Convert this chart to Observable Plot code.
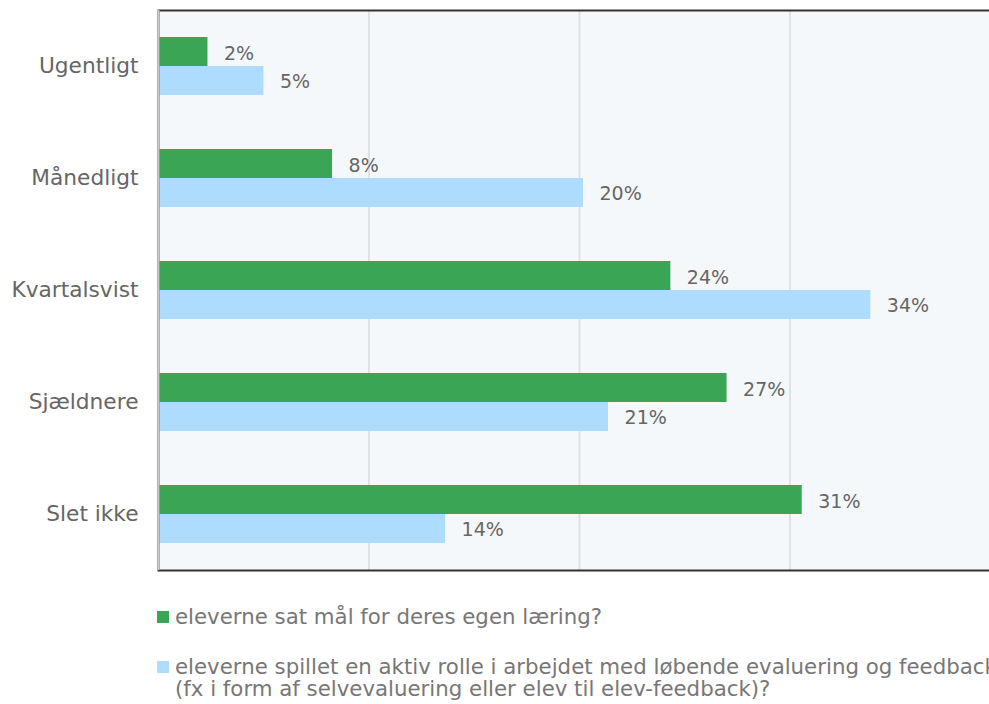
<!DOCTYPE html>
<html><head><meta charset="utf-8">
<script src="https://cdn.jsdelivr.net/npm/d3@7"></script>
<script src="https://cdn.jsdelivr.net/npm/@observablehq/plot@0.6"></script>
<style>
html,body{margin:0;padding:0;background:#fff;overflow:hidden;font-family:"DejaVu Sans",Verdana,sans-serif}
#legend{margin-left:157px;margin-top:26px;color:#777;font-size:21.3px;line-height:22px}
.item{display:flex;align-items:flex-start;white-space:nowrap}
.item + .item{margin-top:28px}
.sw{width:12px;height:12px;margin-top:5px;margin-right:6px;flex:none}
</style></head>
<body><div id="chart"></div><div id="legend"></div>
<script>
const categories = ["Ugentligt", "Månedligt", "Kvartalsvist", "Sjældnere", "Slet ikke"];
const seriesNames = [
  "eleverne sat mål for deres egen læring?",
  "eleverne spillet en aktiv rolle i arbejdet med løbende evaluering og feedback\n(fx i form af selvevaluering eller elev til elev-feedback)?"
];
const valuesA = [2.35, 8.27, 24.34, 27.01, 30.58];
const valuesB = [5.01, 20.19, 33.84, 21.38, 13.64];
const colors = ["#3aa655", "#addcff"];
const gridTicks = [10, 20, 30];

const dataA = categories.map((c, i) => ({category: c, value: valuesA[i]}));
const dataB = categories.map((c, i) => ({category: c, value: valuesB[i]}));
const fmt = d => Math.round(d.value) + "%";

const chart = Plot.plot({
  width: 1000, height: 580,
  marginLeft: 158, marginRight: 0, marginTop: 10, marginBottom: 10,
  style: {fontFamily: "DejaVu Sans, Verdana, sans-serif", fontSize: "21px", color: "#666", background: "#fff", maxWidth: "none", overflow: "visible"},
  x: {domain: [0, 40], axis: null},
  y: {domain: categories, padding: 0, axis: null},
  marks: [
    Plot.frame({fill: "#f5f8fb"}),
    Plot.ruleX(gridTicks, {stroke: "#e2e2e2", strokeWidth: 2}),
    Plot.barX(dataA, {x: "value", y: "category", fill: colors[0], insetTop: 27, insetBottom: 56}),
    Plot.barX(dataB, {x: "value", y: "category", fill: colors[1], insetTop: 56, insetBottom: 27}),
    Plot.text(dataA, {x: "value", y: "category", text: fmt, dx: 16, dy: -13, textAnchor: "start", fill: "#666", fontSize: 19}),
    Plot.text(dataB, {x: "value", y: "category", text: fmt, dx: 16, dy: 15, textAnchor: "start", fill: "#666", fontSize: 19}),
    Plot.frame({stroke: "#333", strokeWidth: 2}),
    Plot.ruleX([0], {stroke: "#ccc", strokeWidth: 2}),
    Plot.axisY({tickSize: 0, tickPadding: 20, fontSize: 21.7, color: "#666", label: null})
  ]
});
document.getElementById("chart").appendChild(chart);

const legend = document.getElementById("legend");
seriesNames.forEach((name, i) => {
  const item = document.createElement("div");
  item.className = "item";
  const sw = document.createElement("span");
  sw.className = "sw";
  sw.style.background = colors[i];
  const txt = document.createElement("span");
  txt.style.whiteSpace = "pre";
  txt.textContent = name;
  item.appendChild(sw);
  item.appendChild(txt);
  legend.appendChild(item);
});
</script>
</body></html>
